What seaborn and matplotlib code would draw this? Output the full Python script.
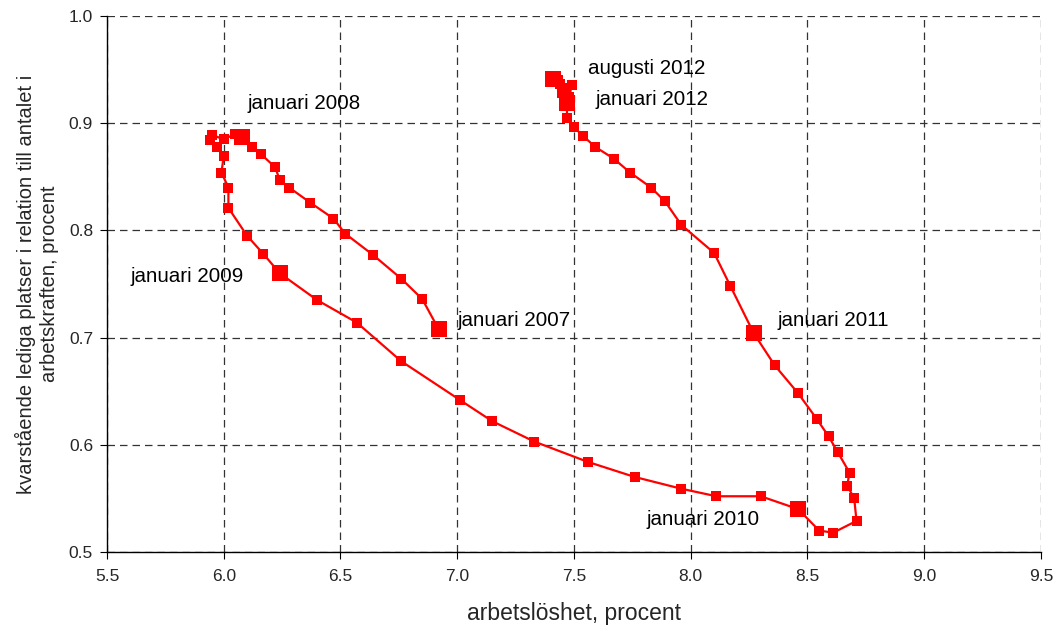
import matplotlib
matplotlib.use("Agg")
import matplotlib.pyplot as plt
import seaborn as sns
import pandas as pd

# unemployment (x) and vacancies (y), monthly jan 2007 - aug 2012
arbetsloshet = [
    6.92, 6.85, 6.76, 6.64, 6.52, 6.47, 6.37, 6.28, 6.24, 6.22, 6.16, 6.12,
    6.08, 6.05, 6.00, 5.95, 5.94, 5.97, 6.00, 5.99, 6.02, 6.02, 6.10, 6.17,
    6.24, 6.40, 6.57, 6.76, 7.01, 7.15, 7.33, 7.56, 7.76, 7.96, 8.11, 8.30,
    8.46, 8.55, 8.61, 8.71, 8.70, 8.67, 8.68, 8.63, 8.59, 8.54, 8.46, 8.36,
    8.27, 8.17, 8.10, 7.96, 7.89, 7.83, 7.74, 7.67, 7.59, 7.54, 7.50, 7.47,
    7.47, 7.48, 7.49, 7.46, 7.45, 7.44, 7.43, 7.41,
]
lediga = [
    0.708, 0.736, 0.755, 0.777, 0.797, 0.811, 0.826, 0.840, 0.847, 0.859, 0.871, 0.878,
    0.887, 0.890, 0.885, 0.889, 0.884, 0.878, 0.869, 0.854, 0.840, 0.821, 0.795, 0.778,
    0.760, 0.735, 0.714, 0.678, 0.642, 0.622, 0.603, 0.584, 0.570, 0.559, 0.552, 0.552,
    0.540, 0.520, 0.518, 0.529, 0.550, 0.562, 0.574, 0.593, 0.608, 0.624, 0.648, 0.674,
    0.704, 0.748, 0.779, 0.805, 0.827, 0.840, 0.854, 0.867, 0.878, 0.888, 0.896, 0.905,
    0.919, 0.924, 0.936, 0.933, 0.928, 0.937, 0.940, 0.941,
]
manad = pd.date_range("2007-01-01", periods=len(lediga), freq="MS")

# highlighted points and their labels
etiketter = ["januari 2007", "januari 2008", "januari 2009", "januari 2010",
             "januari 2011", "januari 2012", "augusti 2012"]
etikett_x = [7.00, 6.10, 5.60, 7.81, 8.37, 7.59, 7.56]
etikett_y = [0.716, 0.918, 0.757, 0.530, 0.716, 0.922, 0.951]

df = pd.DataFrame({"manad": manad, "x": arbetsloshet, "y": lediga})
stora = df[(df["manad"].dt.month == 1) | (df["manad"] == pd.Timestamp("2012-08-01"))]

sns.set_style("ticks")
plt.rcParams["font.family"] = ["Liberation Sans", "DejaVu Sans"]

fig = plt.figure(figsize=(10.53, 6.25), dpi=100)
ax = fig.add_axes([0.1016, 0.1168, 0.887, 0.8576])

sns.lineplot(data=df, x="x", y="y", sort=False, estimator=None, color="red",
             linewidth=1.6, marker="s", markersize=6.5, markeredgewidth=0,
             ax=ax, zorder=3)
sns.scatterplot(data=stora, x="x", y="y", color="red", marker="s", s=130,
                linewidth=0, ax=ax, zorder=4)

for txt, tx, ty in zip(etiketter, etikett_x, etikett_y):
    ax.text(tx, ty, txt, fontsize=14.8, va="center", ha="left", color="black")

ax.set_xlim(5.5, 9.5)
ax.set_ylim(0.5, 1.0)
ax.set_xticks([5.5, 6.0, 6.5, 7.0, 7.5, 8.0, 8.5, 9.0, 9.5])
ax.set_yticks([0.5, 0.6, 0.7, 0.8, 0.9, 1.0])
ax.xaxis.set_major_formatter(matplotlib.ticker.FormatStrFormatter("%.1f"))
ax.yaxis.set_major_formatter(matplotlib.ticker.FormatStrFormatter("%.1f"))
ax.tick_params(labelsize=12.5, length=5, width=0.8, color="black")
ax.tick_params(axis="y", pad=5)
ax.tick_params(axis="x", pad=7)
ax.grid(True, color="#333333", linestyle=(0, (6, 4)), linewidth=0.9)
ax.set_axisbelow(True)
for side in ["top", "right"]:
    ax.spines[side].set_visible(False)
for side in ["left", "bottom"]:
    ax.spines[side].set_color("black")
    ax.spines[side].set_linewidth(1.0)

ax.set_xlabel("arbetslöshet, procent", fontsize=16.5, labelpad=13)
ax.set_ylabel("kvarstående lediga platser i relation till antalet i\narbetskraften, procent",
              fontsize=14.5, labelpad=7, linespacing=1.3)

fig.savefig("out.png", dpi=100)
